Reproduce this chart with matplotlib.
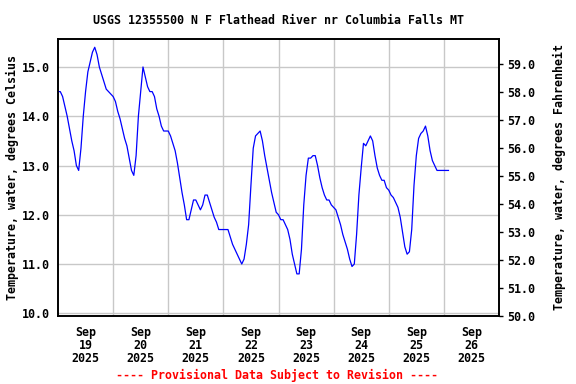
import matplotlib
matplotlib.use("Agg")
import matplotlib.pyplot as plt
import pandas as pd

title = "USGS 12355500 N F Flathead River nr Columbia Falls MT"
left_label = "Temperature, water, degrees Celsius"
right_label = "Temperature, water, degrees Fahrenheit"
footer = "---- Provisional Data Subject to Revision ----"

start = "2025-09-19 00:00"
# hourly water temperature, degrees Celsius
temp_c = [
    # Sep 19
    14.5, 14.5, 14.4, 14.2, 14.0, 13.75, 13.5, 13.3, 13.0, 12.9, 13.35, 14.0,
    14.5, 14.9, 15.1, 15.3, 15.4, 15.25, 15.0, 14.85, 14.7, 14.55, 14.5, 14.45,
    # Sep 20
    14.4, 14.3, 14.1, 13.95, 13.75, 13.55, 13.4, 13.15, 12.9, 12.8, 13.2, 14.0,
    14.5, 15.0, 14.8, 14.6, 14.5, 14.5, 14.4, 14.15, 14.0, 13.8, 13.7, 13.7,
    # Sep 21
    13.7, 13.6, 13.45, 13.3, 13.05, 12.75, 12.45, 12.2, 11.9, 11.9, 12.1, 12.3,
    12.3, 12.2, 12.1, 12.2, 12.4, 12.4, 12.25, 12.1, 11.95, 11.85, 11.7, 11.7,
    # Sep 22
    11.7, 11.7, 11.7, 11.55, 11.4, 11.3, 11.2, 11.1, 11.0, 11.1, 11.4, 11.8,
    12.6, 13.35, 13.6, 13.65, 13.7, 13.5, 13.2, 12.95, 12.7, 12.45, 12.25, 12.05,
    # Sep 23
    12.0, 11.9, 11.9, 11.8, 11.7, 11.5, 11.2, 11.0, 10.8, 10.8, 11.3, 12.2,
    12.8, 13.15, 13.15, 13.2, 13.2, 13.0, 12.75, 12.55, 12.4, 12.3, 12.3, 12.2,
    # Sep 24
    12.15, 12.1, 11.95, 11.8, 11.6, 11.45, 11.3, 11.1, 10.95, 11.0, 11.6, 12.4,
    12.95, 13.45, 13.4, 13.5, 13.6, 13.5, 13.2, 12.95, 12.8, 12.7, 12.7, 12.55,
    # Sep 25
    12.5, 12.4, 12.35, 12.25, 12.15, 11.95, 11.65, 11.35, 11.2, 11.25, 11.7, 12.6,
    13.2, 13.55, 13.65, 13.7, 13.8, 13.6, 13.3, 13.1, 13.0, 12.9, 12.9, 12.9,
    # Sep 26
    12.9, 12.9, 12.9,
]
left_ticks = [10.0, 11.0, 12.0, 13.0, 14.0, 15.0]
right_ticks = [50.0, 51.0, 52.0, 53.0, 54.0, 55.0, 56.0, 57.0, 58.0, 59.0]
day_labels = ["Sep\n19\n2025", "Sep\n20\n2025", "Sep\n21\n2025", "Sep\n22\n2025",
              "Sep\n23\n2025", "Sep\n24\n2025", "Sep\n25\n2025", "Sep\n26\n2025"]

times = pd.date_range(start, periods=len(temp_c), freq="h")

font = {"family": "DejaVu Sans Mono", "weight": "bold", "size": 8.4}

fig = plt.figure(figsize=(5.76, 3.84), dpi=100)
ax = fig.add_axes([58 / 576, 1 - 316 / 384, (499 - 58) / 576, (316 - 39) / 384])

ax.plot(times, temp_c, color="#0000ff", lw=0.9, zorder=3)

x0 = pd.Timestamp("2025-09-19 00:00")
x1 = pd.Timestamp("2025-09-27 00:00")
ax.set_xlim(x0, x1)
ax.set_ylim(9.945, 15.568)

noons = pd.date_range("2025-09-19 12:00", periods=8, freq="D")
mids = pd.date_range("2025-09-20 00:00", periods=7, freq="D")
ax.set_xticks(noons)
ax.set_xticklabels(day_labels, fontdict=font, linespacing=1.0)
ax.set_xticks(mids, minor=True)
ax.tick_params(axis="x", which="both", length=0, pad=7)
ax.grid(True, axis="x", which="minor", color="#c8c8c8", lw=1)
ax.grid(False, axis="x", which="major")

ax.set_yticks(left_ticks)
ax.set_yticklabels([f"{v:.1f}" for v in left_ticks], fontdict=font)
ax.tick_params(axis="y", length=0, pad=6)
ax.grid(True, axis="y", color="#c8c8c8", lw=1)
ax.set_axisbelow(True)
ax.set_ylabel(left_label, fontdict=font)
ax.yaxis.set_label_coords((19 - 58) / 441, 0.5)

for s in ax.spines.values():
    s.set_color("black")
    s.set_linewidth(1.2)

ax2 = ax.twinx()
ax2.set_ylim(50.0, 59.9)
ax2.set_yticks(right_ticks)
ax2.set_yticklabels([f"{v:.1f}" for v in right_ticks], fontdict=font)
ax2.tick_params(axis="y", length=3, width=1, pad=3, direction="out")
ax2.set_ylabel(right_label, fontdict=font, rotation=90)
ax2.yaxis.set_label_coords((553 - 58) / 441, 0.5)
for s in ax2.spines.values():
    s.set_color("black")
    s.set_linewidth(1.2)

fig.text(278.5 / 576, 1 - 20 / 384, title, ha="center", va="center", fontdict=font)
fig.text(277.5 / 576, 1 - 375 / 384, footer, ha="center", va="center",
         color="#ff0000", fontdict=font)

fig.savefig("out.png", dpi=100)
